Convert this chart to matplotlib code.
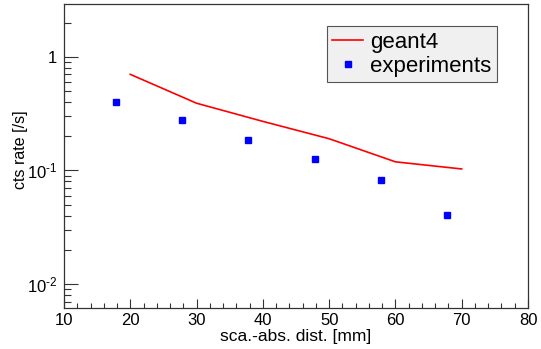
import matplotlib
matplotlib.use("Agg")
import matplotlib.pyplot as plt
from matplotlib.ticker import LogLocator, FixedLocator, FixedFormatter, MultipleLocator, NullFormatter

plt.rcParams['font.family'] = ['Liberation Sans', 'DejaVu Sans']
plt.rcParams['mathtext.fontset'] = 'custom'
plt.rcParams['mathtext.rm'] = 'Liberation Sans'
plt.rcParams['mathtext.it'] = 'Liberation Sans'

# geant4 simulation
sim_dist = [20, 30, 40, 50, 60, 70]
sim_rate = [0.70, 0.39, 0.27, 0.19, 0.119, 0.103]

# measurements
exp_dist = [17.8, 27.8, 37.8, 47.8, 57.8, 67.8]
exp_rate = [0.40, 0.28, 0.185, 0.125, 0.082, 0.0405]

y_ticks = [0.01, 0.1, 1]
y_ticklabels = ['$\\mathregular{10^{\u20102}}$', '$\\mathregular{10^{\u20101}}$', '1']

W, H = 541, 349
fig = plt.figure(figsize=(W / 100, H / 100), dpi=100)
ax = fig.add_axes([64 / W, 1 - 307.7 / H, (528 - 64) / W, (307.7 - 3.5) / H])

ax.plot(sim_dist, sim_rate, color='#ff0000', lw=1.2, label='geant4')
ax.plot(exp_dist, exp_rate, ls='none', marker='s', ms=4.5, color='#0000ff',
        mec='#0000ff', label='experiments')

ax.set_yscale('log')
ax.set_xlim(10, 80)
ax.set_ylim(0.0062, 2.94)

ax.xaxis.set_major_locator(MultipleLocator(10))
ax.xaxis.set_minor_locator(MultipleLocator(2))
ax.yaxis.set_major_locator(FixedLocator(y_ticks))
ax.yaxis.set_major_formatter(FixedFormatter(y_ticklabels))
ax.yaxis.set_minor_locator(LogLocator(base=10, subs=range(2, 10)))
ax.yaxis.set_minor_formatter(NullFormatter())

ax.tick_params(axis='both', which='both', direction='in', top=False, right=False,
               color='#333333', width=0.8, labelsize=12)
ax.tick_params(axis='x', which='major', length=6.5, pad=4)
ax.tick_params(axis='x', which='minor', length=3.6)
ax.tick_params(axis='y', which='major', length=10, pad=5)
ax.tick_params(axis='y', which='minor', length=5)
for s in ax.spines.values():
    s.set_color('#333333')
    s.set_linewidth(0.9)

fig.text(296 / W, 1 - 336 / H, 'sca.-abs. dist. [mm]', ha='center', va='center', fontsize=12.5)
fig.text(21 / W, 1 - 150 / H, 'cts rate [/s]', ha='center', va='center',
         rotation=90, fontsize=11.5)

leg = ax.legend(loc='upper left', bbox_to_anchor=(326.7 / W, 1 - 26 / H),
                bbox_transform=fig.transFigure, fontsize=16, fancybox=False,
                framealpha=1, facecolor='#f0f0f0', edgecolor='#555555',
                handlelength=1.4, handletextpad=0.3, labelspacing=0.15,
                borderpad=0.25, borderaxespad=0, markerscale=1.0)
leg.get_frame().set_linewidth(0.8)

fig.savefig('out.png', dpi=100)
